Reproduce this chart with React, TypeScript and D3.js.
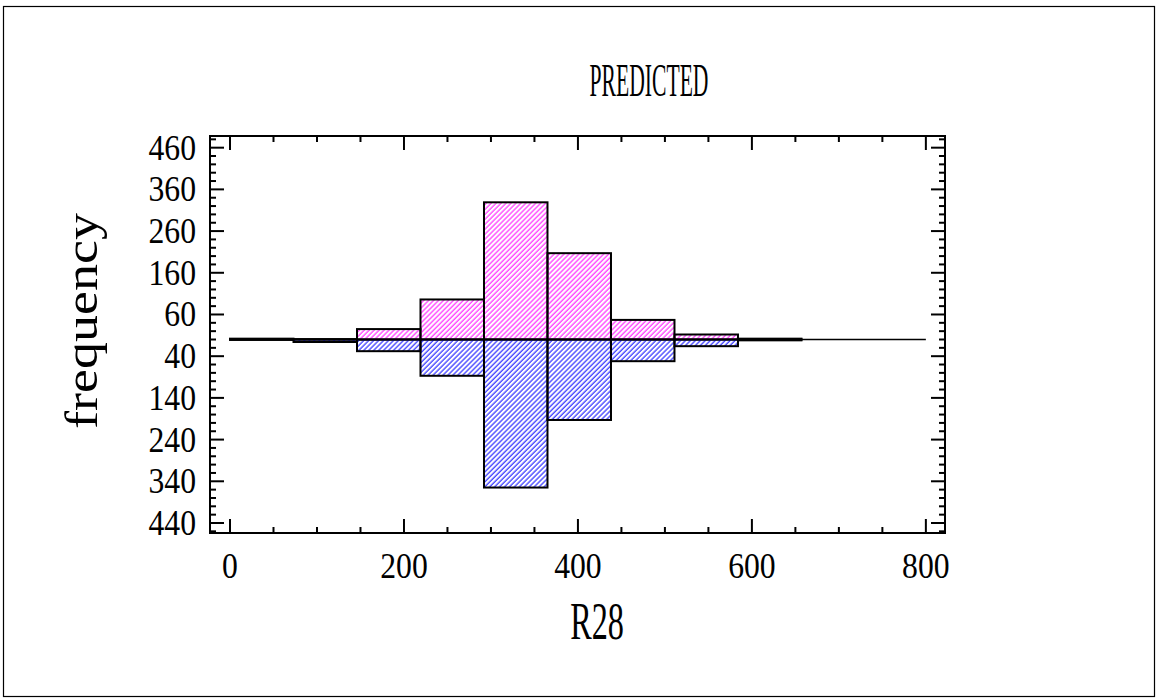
import React from "react";
import * as d3 from "d3";

const binEdges = [0, 73, 146, 219, 292, 365, 438, 511, 584, 657];
const upperCounts = [2, 1, 25, 96, 329, 207, 47, 12, 2];
const lowerCounts = [1, 6, 28, 87, 355, 193, 52, 16, 2];
const xTickValues = [0, 200, 400, 600, 800];
const yTickValues = [460, 360, 260, 160, 60, -40, -140, -240, -340, -440];

const W = 1158;
const H = 700;
const left = 210, right = 945, top = 136, bottom = 533;

export default function App() {
  const x = d3.scaleLinear().domain([-23, 822]).range([left, right]);
  const y = d3.scaleLinear().domain([-464, 488]).range([bottom, top]);

  const xMinor = d3.range(0, 801, 50);
  const yMinor = d3.range(-460, 481, 20);
  const sx = 0.88;

  const bars = binEdges.slice(0, -1).map((e, i) => ({ x0: e, x1: binEdges[i + 1], up: upperCounts[i], lo: lowerCounts[i] }));

  return (
    <svg width={W} height={H} style={{ position: "absolute", left: 0, top: 0, background: "#fff" }}
      fontFamily="'Liberation Serif', 'Times New Roman', serif">
      <defs>
        <pattern id="hatchPink" patternUnits="userSpaceOnUse" width={3.5} height={3.5} patternTransform="rotate(45)">
          <line x1={1} y1={0} x2={1} y2={3.5} stroke="#ff00ff" strokeWidth={1} />
        </pattern>
        <pattern id="hatchBlue" patternUnits="userSpaceOnUse" width={3.5} height={3.5} patternTransform="rotate(45)">
          <line x1={1} y1={0} x2={1} y2={3.5} stroke="#0000ff" strokeWidth={1} />
        </pattern>
      </defs>
      <rect x={3.5} y={6.5} width={1151} height={690} fill="none" stroke="#000" strokeWidth={1.2} />
      <text x={649} y={96} textAnchor="middle" fontSize={46} transform={`translate(649,0) scale(0.47,1) translate(-649,0)`}>PREDICTED</text>

      {/* baseline */}
      <line x1={x(0)} x2={x(800)} y1={y(0)} y2={y(0)} stroke="#000" strokeWidth={1.5} />

      {bars.map((b, i) => (
        <g key={i}>
          <rect x={x(b.x0)} y={y(b.up)} width={x(b.x1) - x(b.x0)} height={y(0) - y(b.up)} fill="url(#hatchPink)" stroke="#000" strokeWidth={2} />
          <rect x={x(b.x0)} y={y(0)} width={x(b.x1) - x(b.x0)} height={y(-b.lo) - y(0)} fill="url(#hatchBlue)" stroke="#000" strokeWidth={2} />
        </g>
      ))}

      {/* frame */}
      <rect x={left} y={top} width={right - left} height={bottom - top} fill="none" stroke="#000" strokeWidth={2} />

      {/* ticks */}
      {xMinor.map((v) => {
        const major = v % 200 === 0;
        const len = major ? 14 : 6;
        return (
          <g key={"xm" + v}>
            <line x1={x(v)} x2={x(v)} y1={bottom} y2={bottom - len} stroke="#000" strokeWidth={2} />
            <line x1={x(v)} x2={x(v)} y1={top} y2={top + len} stroke="#000" strokeWidth={2} />
          </g>
        );
      })}
      {yMinor.map((v) => {
        const major = yTickValues.includes(v);
        const len = major ? 14 : 6;
        return (
          <g key={"ym" + v}>
            <line x1={left} x2={left + len} y1={y(v)} y2={y(v)} stroke="#000" strokeWidth={2} />
            <line x1={right} x2={right - len} y1={y(v)} y2={y(v)} stroke="#000" strokeWidth={2} />
          </g>
        );
      })}
      {xTickValues.map((v) => (
        <text key={"xl" + v} x={x(v)} y={578} textAnchor="middle" fontSize={36}
          transform={`translate(${x(v)},0) scale(${sx},1) translate(${-x(v)},0)`}>{v}</text>
      ))}
      {yTickValues.map((v) => (
        <text key={"yl" + v} x={196} y={y(v) + 12} textAnchor="end" fontSize={36}
          transform={`translate(196,0) scale(${sx},1) translate(-196,0)`}>{Math.abs(v)}</text>
      ))}
      <text x={597} y={639} textAnchor="middle" fontSize={52}
        transform={`translate(597,0) scale(0.62,1) translate(-597,0)`}>R28</text>
      <text transform={`translate(97,321) scale(0.85,1) rotate(-90)`} textAnchor="middle" fontSize={54}>frequency</text>
    </svg>
  );
}
